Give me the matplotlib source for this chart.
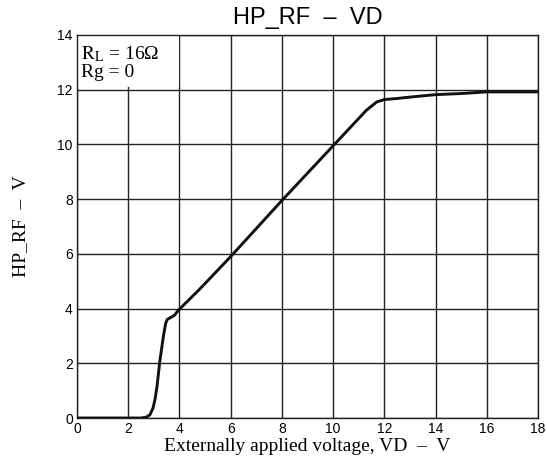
import matplotlib.pyplot as plt
from matplotlib.patches import Rectangle

# values
vd = [0.0, 1.0, 2.0, 2.5, 2.7, 2.85, 2.97, 3.05, 3.12, 3.24, 3.37, 3.46, 3.52,
      3.63, 3.8, 3.95, 4.8, 6.0, 8.0, 10.0, 10.7, 11.3, 11.7, 12.0, 12.5,
      13.0, 14.0, 15.0, 16.0, 17.0, 18.0]
hp_rf = [0.0, 0.0, 0.0, 0.0, 0.03, 0.12, 0.37, 0.7, 1.13, 2.12, 2.97, 3.45, 3.6,
         3.66, 3.75, 3.93, 4.72, 5.9, 7.95, 9.95, 10.65, 11.25, 11.55, 11.64, 11.68,
         11.73, 11.82, 11.86, 11.92, 11.92, 11.92]

xticks = list(range(0, 19, 2))
yticks = list(range(0, 15, 2))

plt.rcParams["mathtext.fontset"] = "stix"

fig = plt.figure(figsize=(5.47, 4.66), dpi=100)
ax = fig.add_axes([0.1408, 0.1030, 0.8427, 0.8219])

ax.plot(vd, hp_rf, color="#111111", lw=2.1, solid_capstyle="round", zorder=3)

ax.set_xlim(0, 18)
ax.set_ylim(0, 14)
ax.set_xticks(xticks)
ax.set_yticks(yticks)
ax.tick_params(length=0, pad=3, labelsize=10)
for lab in ax.get_xticklabels() + ax.get_yticklabels():
    lab.set_family("Liberation Sans")
ax.grid(True, color="#222222", lw=1.0)
for sp in ax.spines.values():
    sp.set_color("#222222")
    sp.set_linewidth(1.0)

# white box behind the annotation
ax.add_patch(Rectangle((0, 12.1), 4, 1.9, facecolor="white", edgecolor="none", zorder=2))
ax.text(0.15, 13.65, r"$\mathrm{R_L}$ = 16Ω", family="Liberation Serif", fontsize=14,
        va="top", ha="left", zorder=4)
ax.text(0.15, 12.95, "Rg = 0", family="Liberation Serif", fontsize=14,
        va="top", ha="left", zorder=4)

ax.set_title("HP_RF  –  VD", family="Liberation Sans", fontsize=17, pad=8)
ax.set_xlabel("Externally applied voltage, VD  –  V", family="Liberation Serif",
              fontsize=14, labelpad=1)
ax.set_ylabel("HP_RF  –  V", family="Liberation Serif", fontsize=14, labelpad=20)

fig.savefig("out.png", dpi=100)
